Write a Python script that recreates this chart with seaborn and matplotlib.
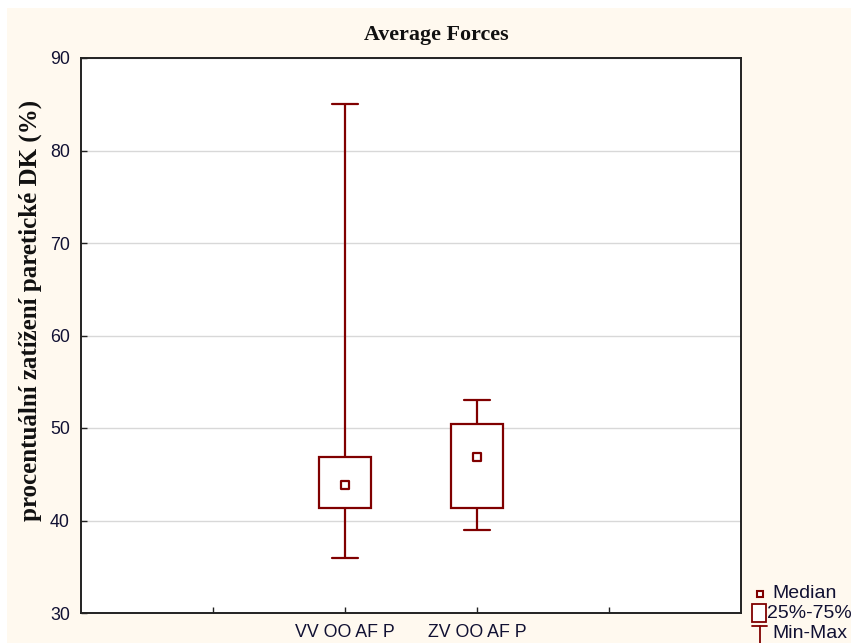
import numpy as np
import pandas as pd
import matplotlib
matplotlib.use("Agg")
import matplotlib.pyplot as plt
import seaborn as sns
from matplotlib.lines import Line2D
from matplotlib.patches import Rectangle

# Data (min, q1, median, q3, max)
categories = ["VV OO AF P", "ZV OO AF P"]
mins = [36.0, 39.0]
q1s = [41.4, 41.4]
medians = [43.8, 46.9]
q3s = [46.9, 50.4]
maxs = [85.0, 53.0]
yticks = [30, 40, 50, 60, 70, 80, 90]
legend_labels = ["Median", "25%-75%", "Min-Max"]

rows = []
for c, a, b, m, d, e in zip(categories, mins, q1s, medians, q3s, maxs):
    for v in (a, b, m, d, e):
        rows.append({"group": c, "value": v})
df = pd.DataFrame(rows)
med_df = pd.DataFrame({"group": categories, "value": medians})

sns.set_theme(style="white")
plt.rcParams["font.family"] = ["Liberation Sans", "DejaVu Sans"]

RED = "#800000"
CREAM = "#FFF9EF"
W, H = 851, 643

fig = plt.figure(figsize=(8.51, 6.43), dpi=100, facecolor=CREAM)
# white border on top/left like the reference
fig.patches.append(Rectangle((0, 1 - 8 / H), 1, 8 / H, transform=fig.transFigure,
                             facecolor="white", edgecolor="none", zorder=-1))
fig.patches.append(Rectangle((0, 0), 7 / W, 1, transform=fig.transFigure,
                             facecolor="white", edgecolor="none", zorder=-1))

ax = fig.add_axes([81 / W, 30 / H, 660 / W, 555 / H])
ax.set_facecolor("white")

sns.boxplot(data=df, x="group", y="value", ax=ax, whis=(0, 100), width=0.4,
            color="white", linecolor=RED, linewidth=1.6,
            medianprops={"visible": False}, showfliers=False, zorder=3)
sns.scatterplot(data=med_df, x="group", y="value", ax=ax, marker="s", s=30,
                facecolor="white", edgecolor=RED, linewidth=1.6, zorder=5)

ax.set_xlim(-2, 3)
ax.set_ylim(30, 90)
ax.set_yticks(yticks)
ax.set_xticks([-1, 0, 1, 2])
ax.set_xticklabels(["", categories[0], categories[1], ""])
ax.tick_params(axis="both", direction="in", length=4, width=1, colors="#222222",
               labelsize=12.8, labelcolor="#111133", bottom=True, left=True)
ax.tick_params(axis="y", pad=8)
ax.tick_params(axis="x", pad=8)
ax.yaxis.grid(True, color="#D8D8D8", linewidth=1)
ax.set_axisbelow(True)
for s in ax.spines.values():
    s.set_color("#222222")
    s.set_linewidth(1.4)

ax.set_xlabel("")
ax.set_ylabel("")
fig.text(30 / W, 1 - 310 / H, "procentuální zatížení paretické DK (%)",
         family=["Liberation Serif"], fontweight="bold", fontsize=18,
         color="#111111", rotation=90, ha="center", va="center")
fig.text(436 / W, 1 - 35 / H, "Average Forces", family=["Liberation Serif"],
         fontweight="bold", fontsize=15.8, color="#111111", ha="center", va="center")

# legend drawn in figure pixel coordinates
def fx(px):
    return px / W

def fy(py):
    return 1 - py / H

lw = 1.3
# Median
fig.add_artist(Line2D([fx(760)], [fy(594)], transform=fig.transFigure, linestyle="none",
                      marker="s", markersize=5, markerfacecolor="white",
                      markeredgecolor=RED, markeredgewidth=1.5))
# 25%-75%
fig.add_artist(Rectangle((fx(752), fy(622)), fx(766) - fx(752), fy(604) - fy(622),
                         transform=fig.transFigure, facecolor="white", edgecolor=RED,
                         linewidth=lw))
# Min-Max
fig.add_artist(Line2D([fx(752), fx(767)], [fy(626), fy(626)], transform=fig.transFigure,
                      color=RED, linewidth=lw))
fig.add_artist(Line2D([fx(759.5), fx(759.5)], [fy(626), fy(645)], transform=fig.transFigure,
                      color=RED, linewidth=lw))
for lab, px, py in zip(legend_labels, [772, 767, 772], [594, 613, 633]):
    fig.text(fx(px), fy(py), lab, fontsize=14, color="#111133", ha="left", va="center")

fig.savefig("out.png", dpi=100, facecolor=CREAM)
